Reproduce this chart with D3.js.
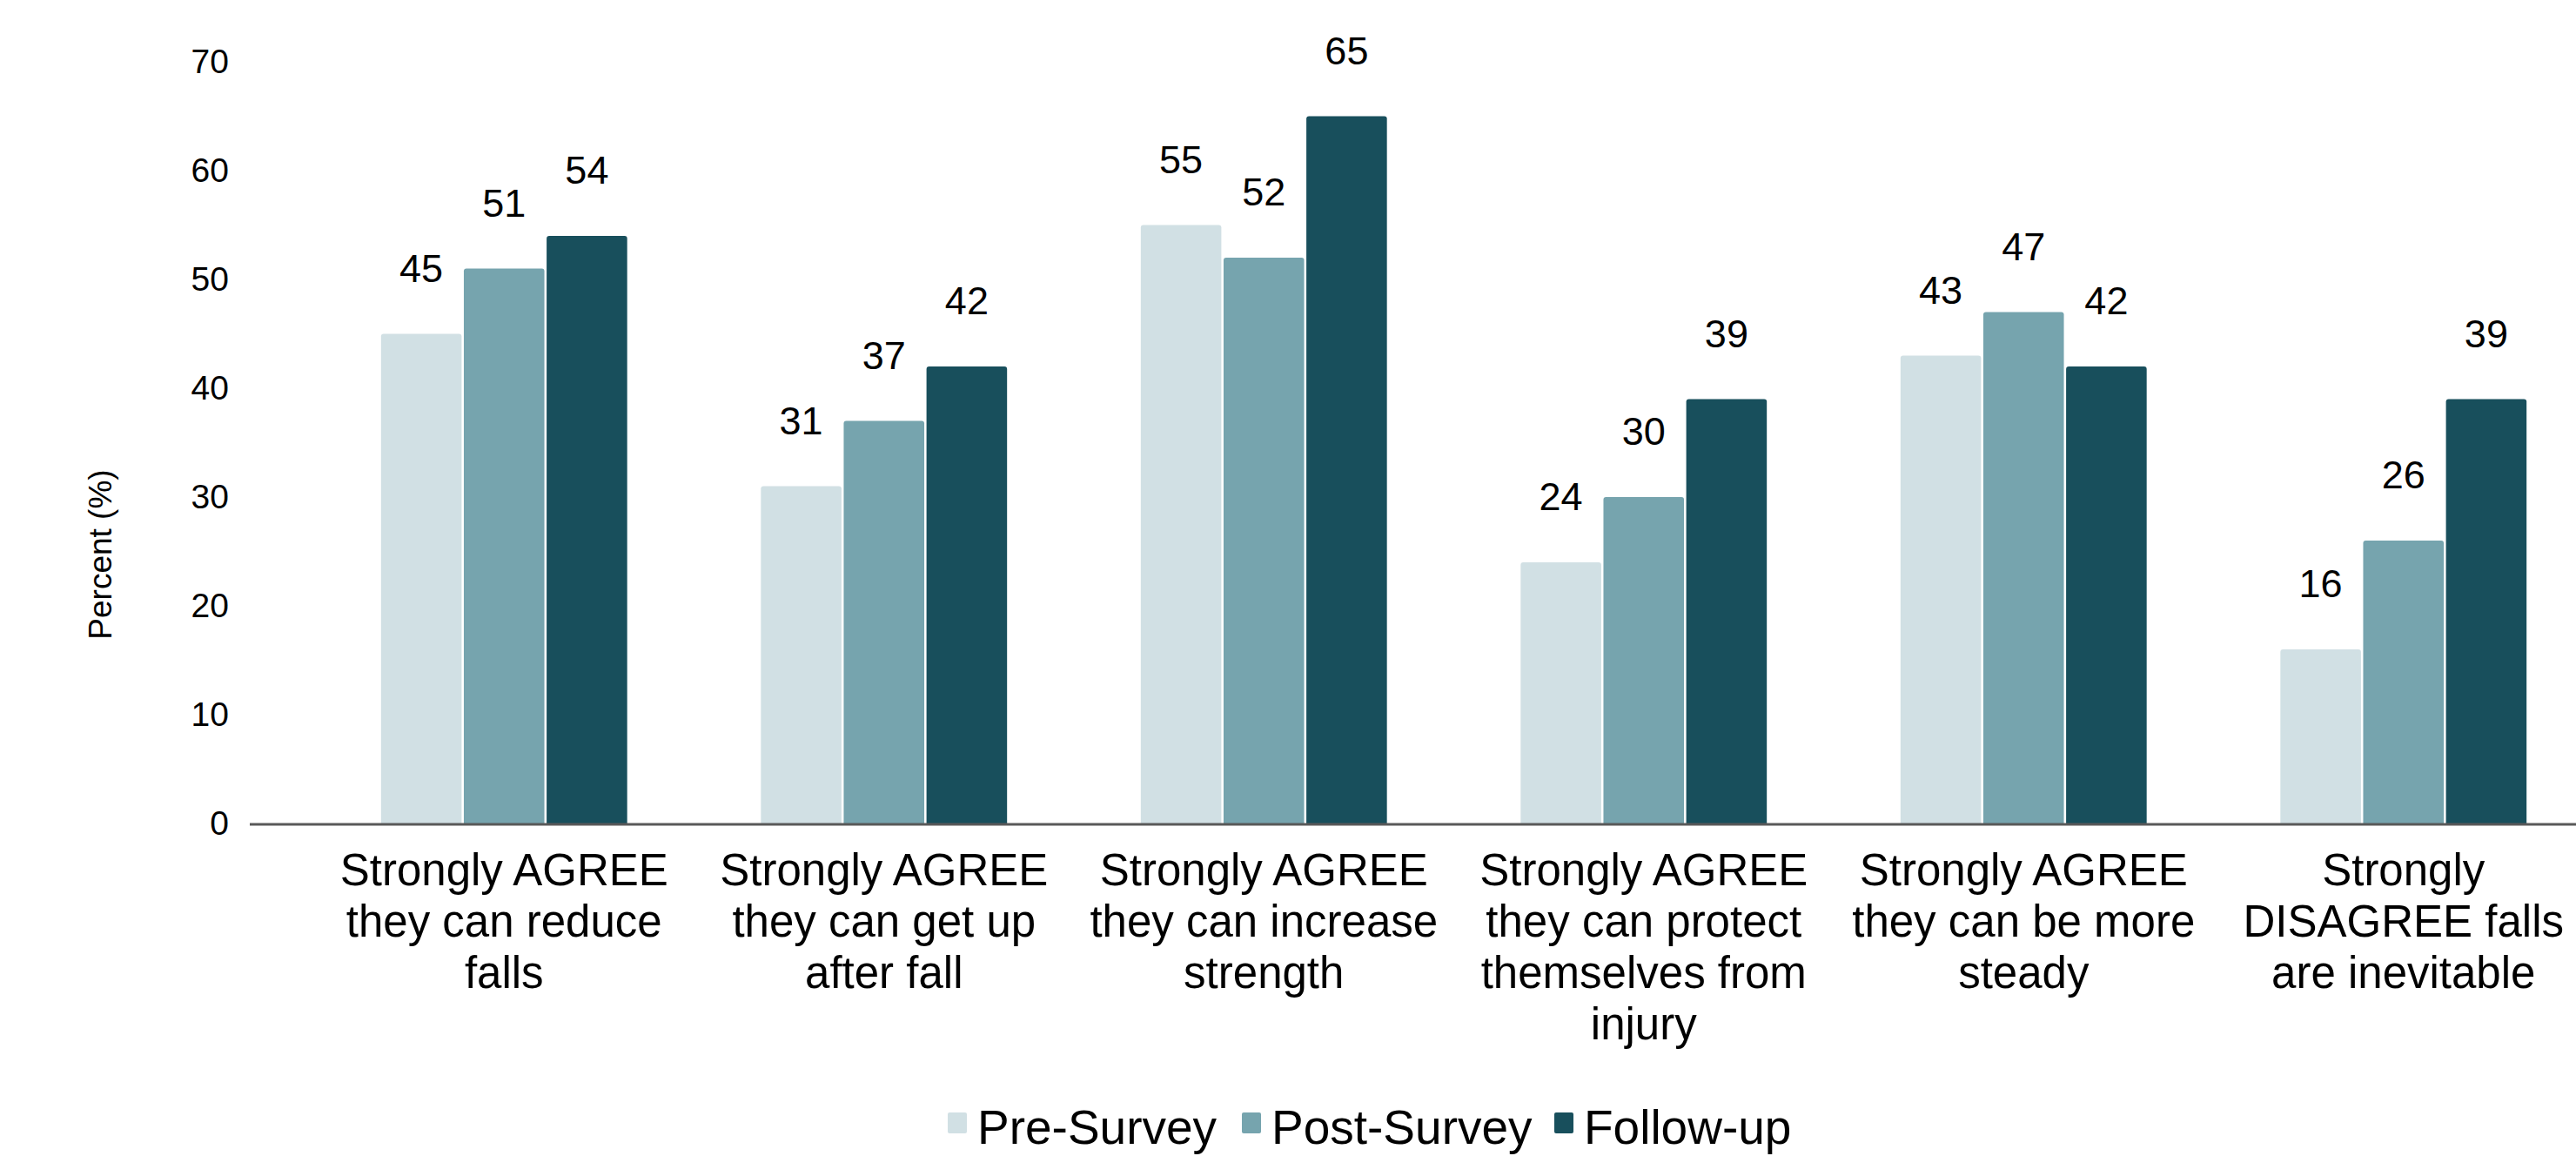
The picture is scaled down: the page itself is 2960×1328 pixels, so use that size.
<!DOCTYPE html>
<html lang="en">
<head>
    <meta charset="utf-8">
    <title>Fall prevention survey</title>
    <script src="https://d3js.org/d3.v7.min.js"></script>
    <style>
        html, body { margin: 0; padding: 0; background: #fff; }
        svg { display: block; }
        text { font-family: 'Liberation Sans', Arial, sans-serif; fill: #000; }
    </style>
</head>
<body>
<svg id="chart"></svg>

<script>
    // Chart data
    const categories = [
        ["Strongly AGREE", "they can reduce", "falls"],
        ["Strongly AGREE", "they can get up", "after fall"],
        ["Strongly AGREE", "they can increase", "strength"],
        ["Strongly AGREE", "they can protect", "themselves from", "injury"],
        ["Strongly AGREE", "they can be more", "steady"],
        ["Strongly", "DISAGREE falls", "are inevitable"]
    ];
    const series = ["Pre-Survey", "Post-Survey", "Follow-up"];
    const preSurvey  = [45, 31, 55, 24, 43, 16];
    const postSurvey = [51, 37, 52, 30, 47, 26];
    const followUp   = [54, 42, 65, 39, 42, 39];
    const yTicks = [0, 10, 20, 30, 40, 50, 60, 70];
    const colors = ["#d1e0e4", "#76a4ae", "#184f5c"];

    // Dimensions of the drawing
    const WIDTH = 2960, HEIGHT = 1328;
    const AXIS_LEFT = 287;

    const svg = d3.select('#chart')
        .attr('width', WIDTH)
        .attr('height', HEIGHT);

    const values = [preSurvey, postSurvey, followUp];
    const keys = categories.map((c, i) => 'c' + i);
    const rows = keys.map((k, i) => ({
        key: k,
        lines: categories[i],
        bars: series.map((s, j) => ({ series: s, value: values[j][i] }))
    }));

    // scales
    const x0 = d3.scaleBand()
        .domain(keys)
        .range([361, 2980])
        .paddingInner(0.352)
        .paddingOuter(0.176);

    const x1 = d3.scaleBand()
        .domain(series)
        .range([0, x0.bandwidth()])
        .paddingInner(0.027);

    const y = d3.scaleLinear()
        .domain([0, 70])
        .range([946, 71]);

    const color = d3.scaleOrdinal().domain(series).range(colors);

    // y axis (labels only)
    svg.append('g')
        .attr('class', 'y-axis')
        .attr('transform', `translate(${AXIS_LEFT},0)`)
        .call(d3.axisLeft(y).tickValues(yTicks).tickSize(0).tickPadding(24))
        .call(g => g.select('.domain').remove())
        .selectAll('text')
            .style('font-size', '39px')
            .style('font-family', "'Liberation Sans', Arial, sans-serif")
            .attr('fill', '#000');

    // y title
    svg.append('text')
        .attr('transform', `translate(128, 637) rotate(-90)`)
        .attr('text-anchor', 'middle')
        .style('font-size', '37px')
        .text('Percent (%)');

    // bars
    const groups = svg.selectAll('g.group')
        .data(rows)
        .join('g')
        .attr('class', 'group')
        .attr('transform', d => `translate(${x0(d.key)},0)`);

    groups.selectAll('path.bar')
        .data(d => d.bars)
        .join('path')
        .attr('class', 'bar')
        .attr('fill', d => color(d.series))
        .attr('d', d => {
            const bx = x1(d.series), bw = x1.bandwidth();
            const top = y(d.value), bottom = y(0), r = 3;
            return `M${bx},${bottom} V${top + r} Q${bx},${top} ${bx + r},${top}
                    H${bx + bw - r} Q${bx + bw},${top} ${bx + bw},${top + r} V${bottom} Z`;
        });

    // value labels
    groups.selectAll('text.value')
        .data(d => d.bars)
        .join('text')
        .attr('class', 'value')
        .attr('x', d => x1(d.series) + x1.bandwidth() / 2)
        .attr('y', d => y(d.value) - 60)
        .attr('text-anchor', 'middle')
        .style('font-size', '45px')
        .text(d => d.value);

    // baseline
    svg.append('line')
        .attr('x1', AXIS_LEFT)
        .attr('x2', WIDTH)
        .attr('y1', y(0) + 1)
        .attr('y2', y(0) + 1)
        .attr('stroke', '#595959')
        .attr('stroke-width', 3);

    // category labels (multi line)
    const xAxis = svg.append('g')
        .attr('class', 'x-axis')
        .attr('transform', `translate(0,${y(0)})`)
        .call(d3.axisBottom(x0).tickSize(0).tickFormat(''));
    xAxis.select('.domain').remove();

    xAxis.selectAll('.tick')
        .data(rows)
        .each(function(d) {
            const t = d3.select(this).append('text')
                .attr('text-anchor', 'middle')
                .style('font-size', '51px')
                .attr('fill', '#000');
            d.lines.forEach((line, i) => {
                t.append('tspan')
                    .attr('x', 0)
                    .attr('y', 71 + i * 59)
                    .text(line);
            });
        });

    // legend
    const legendItems = [
        { name: series[0], x: 1089 },
        { name: series[1], x: 1427 },
        { name: series[2], x: 1786 }
    ];
    const legend = svg.append('g').attr('class', 'legend');
    const item = legend.selectAll('g')
        .data(legendItems)
        .join('g')
        .attr('transform', d => `translate(${d.x},1278)`);
    item.append('rect')
        .attr('width', 22)
        .attr('height', 24)
        .attr('rx', 2)
        .attr('fill', d => color(d.name));
    item.append('text')
        .attr('x', 34)
        .attr('y', 36)
        .style('font-size', '55px')
        .text(d => d.name);
</script>
</body>
</html>
